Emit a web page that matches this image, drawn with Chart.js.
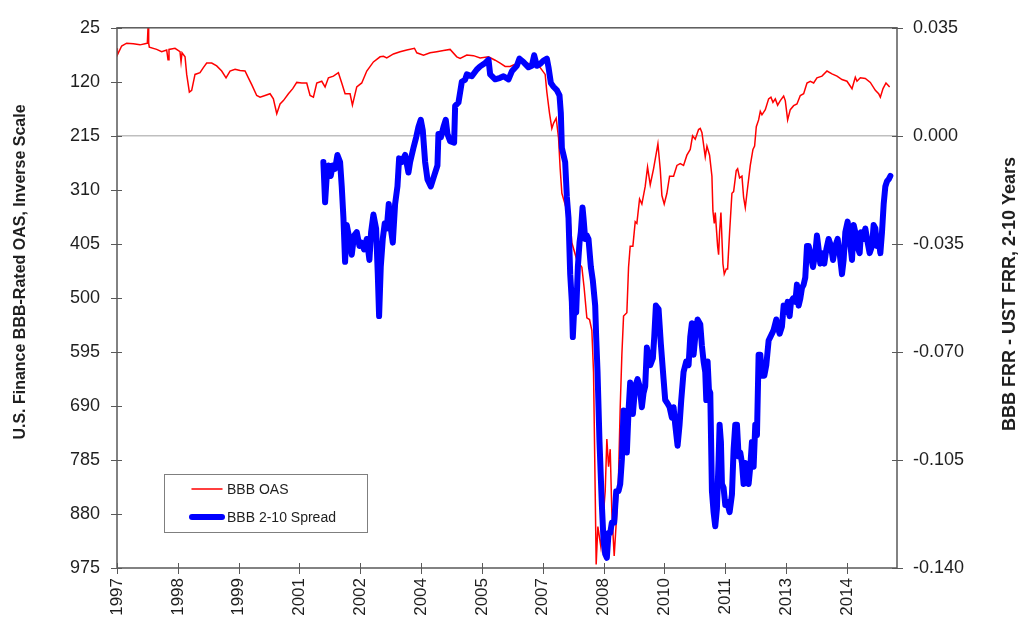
<!DOCTYPE html>
<html>
<head>
<meta charset="utf-8">
<script src="https://cdn.jsdelivr.net/npm/chart.js@4.4.1/dist/chart.umd.min.js"></script>
<style>
  html, body { margin: 0; padding: 0; background: #fff; }
  canvas { display: block; }
</style>
</head>
<body>
<canvas id="oasChart" width="1021" height="620"></canvas>
<script>
// x axis in fractional years, labels every ~1.475 years like the excel date axis
const xMin = 1997.0;
const xMax = 2015.915;
const xTickStep = 1.475;
const xTickLabels = ['1997', '1998', '1999', '2001', '2002', '2004', '2005', '2007', '2008', '2010', '2011', '2013', '2014'];

const oasTicks = [25, 120, 215, 310, 405, 500, 595, 690, 785, 880, 975];
const spreadTicks = [0.035, 0, -0.035, -0.07, -0.105, -0.14];

// BBB OAS (bp), left axis, inverse
const oasDates = [
  1997.000, 1997.008, 1997.113, 1997.234, 1997.396, 1997.558, 1997.679, 1997.736, 1997.752, 1997.768,
  1997.784, 1997.962, 1998.083, 1998.205, 1998.237, 1998.261, 1998.407, 1998.528, 1998.553, 1998.577,
  1998.650, 1998.690, 1998.755, 1998.811, 1998.892, 1999.013, 1999.094, 1999.175, 1999.297, 1999.418,
  1999.539, 1999.644, 1999.741, 1999.863, 1999.984, 2000.105, 2000.186, 2000.267, 2000.388, 2000.469,
  2000.590, 2000.712, 2000.792, 2000.874, 2000.954, 2001.035, 2001.157, 2001.262, 2001.359, 2001.480,
  2001.601, 2001.682, 2001.763, 2001.844, 2001.965, 2002.046, 2002.127, 2002.248, 2002.369, 2002.450,
  2002.531, 2002.652, 2002.709, 2002.814, 2002.935, 2003.057, 2003.218, 2003.380, 2003.461, 2003.542,
  2003.704, 2003.865, 2004.027, 2004.213, 2004.270, 2004.432, 2004.593, 2004.755, 2004.917, 2005.078,
  2005.240, 2005.321, 2005.483, 2005.645, 2005.806, 2006.009, 2006.170, 2006.291, 2006.413, 2006.534,
  2006.655, 2006.777, 2006.938, 2007.262, 2007.383, 2007.424, 2007.488, 2007.545, 2007.585, 2007.650,
  2007.707, 2007.747, 2007.788, 2007.852, 2007.909, 2007.990, 2008.030, 2008.151, 2008.273, 2008.329,
  2008.394, 2008.459, 2008.515, 2008.556, 2008.596, 2008.620, 2008.661, 2008.734, 2008.839, 2008.879,
  2008.920, 2008.960, 2009.000, 2009.057, 2009.122, 2009.162, 2009.203, 2009.243, 2009.284, 2009.364,
  2009.405, 2009.445, 2009.510, 2009.567, 2009.607, 2009.672, 2009.728, 2009.809, 2009.866, 2009.931,
  2010.011, 2010.117, 2010.173, 2010.214, 2010.270, 2010.335, 2010.400, 2010.497, 2010.578, 2010.658,
  2010.739, 2010.820, 2010.901, 2010.958, 2011.022, 2011.103, 2011.144, 2011.184, 2011.265, 2011.306,
  2011.370, 2011.427, 2011.451, 2011.484, 2011.508, 2011.565, 2011.589, 2011.613, 2011.645, 2011.694,
  2011.726, 2011.775, 2011.807, 2011.856, 2011.912, 2011.953, 2012.017, 2012.050, 2012.098, 2012.155,
  2012.195, 2012.236, 2012.276, 2012.357, 2012.422, 2012.462, 2012.503, 2012.559, 2012.600, 2012.640,
  2012.721, 2012.802, 2012.858, 2012.907, 2012.964, 2013.020, 2013.085, 2013.166, 2013.206, 2013.263,
  2013.327, 2013.408, 2013.489, 2013.570, 2013.651, 2013.732, 2013.813, 2013.894, 2013.974, 2014.096,
  2014.217, 2014.338, 2014.460, 2014.581, 2014.702, 2014.824, 2014.904, 2014.945, 2015.026, 2015.147,
  2015.268, 2015.390, 2015.470, 2015.511, 2015.576, 2015.648, 2015.737
];
const oasValues = [
  61, 73, 57, 52, 53, 55, 53, 52, 25, 52,
  59, 63, 67, 64, 81, 63, 61, 67, 85, 69,
  76, 107, 138, 135, 107, 104, 95, 87, 87, 92,
  101, 113, 101, 98, 100, 101, 113, 125, 144, 147,
  144, 141, 150, 176, 159, 153, 141, 132, 121, 122,
  122, 144, 147, 122, 119, 129, 113, 110, 104, 122,
  141, 141, 161, 129, 122, 101, 85, 76, 75, 78,
  71, 67, 64, 61, 69, 73, 69, 67, 65, 63,
  76, 79, 73, 74, 78, 76, 82, 87, 93, 93,
  89, 84, 87, 95, 107, 138, 175, 202, 193, 184,
  218, 273, 316, 332, 347, 366, 403, 433, 446, 483,
  535, 538, 557, 631, 840, 969, 902, 938, 840, 748,
  797, 766, 877, 954, 877, 815, 692, 600, 532, 526,
  446, 409, 409, 366, 369, 326, 335, 304, 270, 301,
  273, 229, 273, 320, 335, 316, 286, 286, 267, 264,
  267, 249, 239, 215, 221, 204, 202, 209, 252, 233,
  249, 286, 347, 369, 350, 409, 424, 384, 350, 440,
  458, 449, 449, 384, 316, 313, 276, 273, 289, 286,
  323, 341, 316, 267, 239, 233, 199, 187, 172, 178,
  169, 150, 147, 156, 150, 161, 153, 145, 153, 187,
  169, 162, 159, 144, 141, 122, 119, 122, 113, 110,
  101, 106, 110, 116, 119, 132, 112, 119, 113, 114,
  121, 135, 141, 147, 132, 122, 129
];

// BBB 2-10 spread (FRR), right axis
const spreadDates = [
  2002.005, 2002.046, 2002.086, 2002.127, 2002.183, 2002.232, 2002.289, 2002.345, 2002.410, 2002.450,
  2002.491, 2002.531, 2002.572, 2002.636, 2002.693, 2002.749, 2002.814, 2002.879, 2002.935, 2002.992,
  2003.057, 2003.121, 2003.162, 2003.218, 2003.283, 2003.324, 2003.356, 2003.396, 2003.445, 2003.493,
  2003.542, 2003.590, 2003.639, 2003.688, 2003.744, 2003.801, 2003.841, 2003.906, 2003.987, 2004.068,
  2004.108, 2004.189, 2004.254, 2004.310, 2004.367, 2004.415, 2004.472, 2004.529, 2004.610, 2004.690,
  2004.771, 2004.795, 2004.852, 2004.917, 2004.973, 2005.014, 2005.078, 2005.175, 2005.200, 2005.281,
  2005.362, 2005.442, 2005.483, 2005.604, 2005.726, 2005.806, 2005.928, 2006.009, 2006.049, 2006.170,
  2006.292, 2006.373, 2006.494, 2006.575, 2006.696, 2006.760, 2006.857, 2006.979, 2007.060, 2007.116,
  2007.181, 2007.262, 2007.343, 2007.424, 2007.464, 2007.521, 2007.585, 2007.666, 2007.731, 2007.763,
  2007.788, 2007.828, 2007.868, 2007.909, 2007.949, 2007.990, 2008.030, 2008.054, 2008.087, 2008.135,
  2008.176, 2008.216, 2008.248, 2008.289, 2008.313, 2008.354, 2008.394, 2008.434, 2008.491, 2008.540,
  2008.596, 2008.620, 2008.653, 2008.701, 2008.758, 2008.798, 2008.839, 2008.879, 2008.920, 2008.960,
  2009.000, 2009.057, 2009.106, 2009.162, 2009.203, 2009.243, 2009.284, 2009.324, 2009.364, 2009.405,
  2009.445, 2009.510, 2009.567, 2009.623, 2009.672, 2009.728, 2009.769, 2009.809, 2009.850, 2009.890,
  2009.931, 2009.995, 2010.028, 2010.068, 2010.133, 2010.189, 2010.254, 2010.294, 2010.351, 2010.400,
  2010.456, 2010.497, 2010.537, 2010.594, 2010.642, 2010.683, 2010.739, 2010.804, 2010.861, 2010.901,
  2010.941, 2010.982, 2011.022, 2011.079, 2011.144, 2011.184, 2011.225, 2011.265, 2011.290, 2011.322,
  2011.354, 2011.387, 2011.427, 2011.467, 2011.508, 2011.548, 2011.589, 2011.613, 2011.645, 2011.670,
  2011.710, 2011.751, 2011.791, 2011.856, 2011.912, 2011.953, 2011.993, 2012.034, 2012.074, 2012.114,
  2012.155, 2012.195, 2012.236, 2012.276, 2012.317, 2012.357, 2012.397, 2012.438, 2012.478, 2012.519,
  2012.559, 2012.600, 2012.640, 2012.697, 2012.745, 2012.802, 2012.842, 2012.883, 2012.923, 2012.988,
  2013.020, 2013.069, 2013.125, 2013.166, 2013.206, 2013.263, 2013.311, 2013.344, 2013.392, 2013.449,
  2013.489, 2013.530, 2013.570, 2013.610, 2013.651, 2013.691, 2013.732, 2013.772, 2013.813, 2013.877,
  2013.934, 2013.974, 2014.015, 2014.055, 2014.096, 2014.152, 2014.201, 2014.257, 2014.314, 2014.363,
  2014.419, 2014.476, 2014.524, 2014.581, 2014.621, 2014.662, 2014.718, 2014.767, 2014.824, 2014.864,
  2014.904, 2014.945, 2015.010, 2015.042, 2015.107, 2015.147, 2015.204, 2015.252, 2015.309, 2015.349,
  2015.390, 2015.430, 2015.471, 2015.511, 2015.551, 2015.592, 2015.632, 2015.673, 2015.713, 2015.754
];
const spreadValues = [
  -0.0085, -0.0215, -0.0130, -0.0096, -0.0130, -0.0096, -0.0107, -0.0062, -0.0085, -0.0164,
  -0.0266, -0.0408, -0.0289, -0.0334, -0.0385, -0.0323, -0.0312, -0.0357, -0.0346, -0.0368,
  -0.0334, -0.0402, -0.0312, -0.0255, -0.0300, -0.0448, -0.0584, -0.0425, -0.0334, -0.0283,
  -0.0300, -0.0221, -0.0300, -0.0346, -0.0221, -0.0164, -0.0073, -0.0085, -0.0062, -0.0119,
  -0.0085, -0.0039, -0.0005, 0.0029, 0.0052, 0.0018, -0.0085, -0.0141, -0.0164, -0.0130,
  -0.0096, 0.0006, -0.0005, 0.0029, 0.0052, 0.0006, -0.0017, -0.0022, 0.0097, 0.0108,
  0.0175, 0.0182, 0.0199, 0.0193, 0.0215, 0.0225, 0.0236, 0.0247, 0.0199, 0.0183,
  0.0188, 0.0193, 0.0183, 0.0209, 0.0227, 0.0250, 0.0239, 0.0222, 0.0227, 0.0261,
  0.0227, 0.0233, 0.0244, 0.0250, 0.0222, 0.0171, 0.0159, 0.0148, 0.0131, 0.0074,
  -0.0039, -0.0062, -0.0085, -0.0198, -0.0266, -0.0448, -0.0538, -0.0652, -0.0561, -0.0572,
  -0.0425, -0.0346, -0.0312, -0.0232, -0.0266, -0.0334, -0.0323, -0.0334, -0.0425, -0.0470,
  -0.0550, -0.0652, -0.0765, -0.0992, -0.1196, -0.1310, -0.1355, -0.1367, -0.1287, -0.1287,
  -0.1253, -0.1253, -0.1151, -0.1151, -0.1128, -0.1049, -0.0890, -0.0992, -0.1026, -0.0890,
  -0.0799, -0.0901, -0.0811, -0.0788, -0.0811, -0.0879, -0.0833, -0.0811, -0.0686, -0.0720,
  -0.0743, -0.0720, -0.0652, -0.0550, -0.0561, -0.0675, -0.0788, -0.0856, -0.0867, -0.0879,
  -0.0913, -0.0879, -0.0936, -0.1004, -0.0936, -0.0856, -0.0765, -0.0731, -0.0743, -0.0652,
  -0.0607, -0.0709, -0.0652, -0.0595, -0.0610, -0.0680, -0.0731, -0.0765, -0.0856, -0.0731,
  -0.0822, -0.0833, -0.1151, -0.1219, -0.1265, -0.1208, -0.1049, -0.0936, -0.0992, -0.1128,
  -0.1140, -0.1196, -0.1185, -0.1219, -0.1162, -0.1015, -0.0936, -0.0936, -0.1038, -0.1026,
  -0.1060, -0.1128, -0.1060, -0.1072, -0.1128, -0.1072, -0.0992, -0.1072, -0.0936, -0.0970,
  -0.0709, -0.0709, -0.0777, -0.0777, -0.0743, -0.0663, -0.0652, -0.0641, -0.0629, -0.0595,
  -0.0618, -0.0641, -0.0618, -0.0550, -0.0572, -0.0538, -0.0584, -0.0538, -0.0527, -0.0538,
  -0.0482, -0.0550, -0.0527, -0.0493, -0.0482, -0.0459, -0.0357, -0.0357, -0.0380, -0.0425,
  -0.0380, -0.0323, -0.0368, -0.0414, -0.0380, -0.0414, -0.0368, -0.0334, -0.0357, -0.0402,
  -0.0357, -0.0334, -0.0380, -0.0448, -0.0402, -0.0312, -0.0278, -0.0334, -0.0402, -0.0289,
  -0.0312, -0.0357, -0.0380, -0.0312, -0.0334, -0.0300, -0.0346, -0.0380, -0.0357, -0.0289,
  -0.0300, -0.0357, -0.0334, -0.0380, -0.0312, -0.0221, -0.0164, -0.0147, -0.0141, -0.0130
];

const fontFamily = "'Liberation Sans', Arial, sans-serif";
const textColor = '#1f1f1f';
const frameColor = '#595959';

// frame, crossing tick marks, both axis titles and the boxed legend
const decorations = {
  id: 'decorations',
  afterDraw(chart) {
    const ctx = chart.ctx;
    const a = chart.chartArea;
    const xs = chart.scales.x;
    const yl = chart.scales.yOas;
    const yr = chart.scales.ySpread;
    ctx.save();

    ctx.strokeStyle = frameColor;
    ctx.lineWidth = 1.5;
    ctx.strokeRect(a.left, a.top, a.right - a.left, a.bottom - a.top);

    ctx.lineWidth = 1;
    ctx.beginPath();
    yl.ticks.forEach(t => {
      const p = Math.round(yl.getPixelForValue(t.value)) + 0.5;
      ctx.moveTo(a.left - 6, p);
      ctx.lineTo(a.left + 5, p);
    });
    yr.ticks.forEach(t => {
      const p = Math.round(yr.getPixelForValue(t.value)) + 0.5;
      ctx.moveTo(a.right - 5, p);
      ctx.lineTo(a.right + 6, p);
    });
    xs.ticks.forEach(t => {
      const p = Math.round(xs.getPixelForValue(t.value)) + 0.5;
      ctx.moveTo(p, a.bottom - 5);
      ctx.lineTo(p, a.bottom + 6);
    });
    ctx.stroke();

    ctx.fillStyle = textColor;
    ctx.textAlign = 'center';
    ctx.textBaseline = 'middle';
    ctx.save();
    ctx.font = 'bold 16px ' + fontFamily;
    ctx.translate(21, 272);
    ctx.rotate(-Math.PI / 2);
    ctx.fillText('U.S. Finance BBB-Rated OAS, Inverse Scale', 0, 0);
    ctx.restore();
    ctx.save();
    ctx.font = 'bold 18px ' + fontFamily;
    ctx.translate(1010, 294);
    ctx.rotate(-Math.PI / 2);
    ctx.fillText('BBB FRR - UST FRR, 2-10 Years', 0, 0);
    ctx.restore();

    // legend box inside the plot
    ctx.fillStyle = '#fff';
    ctx.fillRect(164.5, 474.5, 203, 58);
    ctx.strokeStyle = '#7f7f7f';
    ctx.lineWidth = 1;
    ctx.strokeRect(164.5, 474.5, 203, 58);
    const rows = [
      { ds: chart.data.datasets[1], y: 489 },
      { ds: chart.data.datasets[0], y: 517 }
    ];
    ctx.font = '14px ' + fontFamily;
    ctx.textAlign = 'left';
    rows.forEach(r => {
      ctx.strokeStyle = r.ds.borderColor;
      ctx.lineWidth = r.ds.borderWidth;
      ctx.lineCap = 'round';
      ctx.beginPath();
      ctx.moveTo(192, r.y);
      ctx.lineTo(222, r.y);
      ctx.stroke();
      ctx.fillStyle = textColor;
      ctx.fillText(r.ds.label, 227, r.y + 1);
    });

    ctx.restore();
  }
};

const xTickFont = { family: fontFamily, size: 17 };
const yTickFont = { family: fontFamily, size: 18 };

new Chart(document.getElementById('oasChart').getContext('2d'), {
  type: 'line',
  data: {
    datasets: [
      {
        label: 'BBB 2-10 Spread',
        data: spreadDates.map((d, i) => ({ x: d, y: spreadValues[i] })),
        yAxisID: 'ySpread',
        borderColor: '#0000ff',
        borderWidth: 6,
        borderJoinStyle: 'round',
        borderCapStyle: 'round',
        pointRadius: 0,
        tension: 0
      },
      {
        label: 'BBB OAS',
        data: oasDates.map((d, i) => ({ x: d, y: oasValues[i] })),
        yAxisID: 'yOas',
        borderColor: '#ff0000',
        borderWidth: 1.5,
        pointRadius: 0,
        tension: 0
      }
    ]
  },
  options: {
    responsive: false,
    animation: false,
    layout: { padding: { top: 21, left: 0, right: 0, bottom: 0 } },
    plugins: {
      legend: { display: false },
      tooltip: { enabled: false }
    },
    scales: {
      x: {
        type: 'linear',
        min: xMin,
        max: xMax,
        afterBuildTicks: s => {
          s.ticks = xTickLabels.map((l, i) => ({ value: xMin + i * xTickStep }));
        },
        afterFit: s => { s.height = 52; },
        ticks: {
          autoSkip: false,
          minRotation: 90,
          maxRotation: 90,
          padding: 10,
          color: textColor,
          font: xTickFont,
          callback: (v, i) => xTickLabels[i]
        },
        grid: { display: false, drawTicks: false },
        border: { display: false }
      },
      yOas: {
        position: 'left',
        reverse: true,
        min: 25,
        max: 975,
        afterBuildTicks: s => { s.ticks = oasTicks.map(v => ({ value: v })); },
        afterFit: s => { s.width = 117; },
        ticks: { padding: 17, color: textColor, font: yTickFont },
        grid: { display: false, drawTicks: false },
        border: { display: false }
      },
      ySpread: {
        position: 'right',
        min: -0.14,
        max: 0.035,
        afterBuildTicks: s => { s.ticks = spreadTicks.map(v => ({ value: v })); },
        afterFit: s => { s.width = 124; },
        ticks: {
          padding: 16,
          color: textColor,
          font: yTickFont,
          callback: v => v.toFixed(3)
        },
        grid: {
          drawTicks: false,
          lineWidth: 1.5,
          color: c => (c.tick && Math.abs(c.tick.value) < 1e-9 ? '#bfbfbf' : 'rgba(0,0,0,0)')
        },
        border: { display: false }
      }
    }
  },
  plugins: [decorations]
});
</script>
</body>
</html>
